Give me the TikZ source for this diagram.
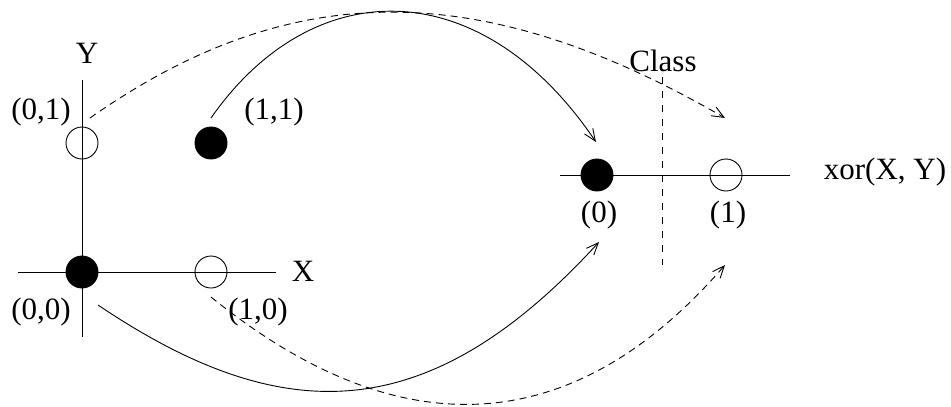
\documentclass[tikz,border=0pt]{standalone}
\usepackage{fontspec}
\setmainfont{Liberation Serif}
\usetikzlibrary{arrows.meta}
\begin{document}
\begin{tikzpicture}[x=1pt,y=-1pt,
  dot/.style={circle,draw,line width=0.9pt,minimum size=32pt,inner sep=0pt},
  filled/.style={dot,fill=black},
  hollow/.style={dot},
  lbl/.style={inner sep=0pt,font=\fontsize{31}{36}\selectfont},
  axis/.style={line width=0.9pt},
  link/.style={line width=0.9pt,-{Straight Barb[length=12pt,width=10pt]}},
  dashedlink/.style={link,dash pattern=on 7pt off 5pt},
  classline/.style={line width=0.9pt,dash pattern=on 7pt off 7pt}]
\useasboundingbox (0,0) rectangle (951,407);
% axes
\coordinate (ytop) at (82,80);
\coordinate (ybot) at (82,337);
\coordinate (xl) at (18,272);
\coordinate (xr) at (276,272);
\coordinate (rl) at (560,175);
\coordinate (rr) at (790,175);
\coordinate (ct) at (662,77);
\coordinate (cb) at (662,265);
\draw[axis] (ytop) -- (ybot);
\draw[axis] (xl) -- (xr);
\draw[axis] (rl) -- (rr);
\draw[classline] (ct) -- (cb);
% points
\node[filled] (p00) at (82,272) {};
\node[hollow] (p01) at (82,143) {};
\node[filled] (p11) at (211,143) {};
\node[hollow] (p10) at (211,272) {};
\node[filled] (c0) at (597,175) {};
\node[hollow] (c1) at (726,175) {};
% labels
\node[lbl] (ly) at (87,53) {Y};
\node[lbl] (lx) at (303,271) {X};
\node[lbl] (l01) at (41,112) {(0,1)};
\node[lbl] (l11) at (274,112) {(1,1)};
\node[lbl] (l00) at (41,312) {(0,0)};
\node[lbl] (l10) at (258,312) {(1,0)};
\node[lbl] (lclass) at (663,61) {Class};
\node[lbl] (lxor) at (885,172) {xor(X, Y)};
\node[lbl] (lc0) at (599,215) {(0)};
\node[lbl] (lc1) at (728,215) {(1)};
% mappings
\draw[dashedlink] ([shift={(8,-25)}]p01.center) .. controls (291,-23) and (481,-23) .. ([shift={(-1,-57)}]c1.center);
\draw[link] ([shift={(0,-25)}]p11.center) .. controls (313,-28) and (481,-28) .. ([shift={(-1,-33)}]c0.center);
\draw[link] ([shift={(16,33)}]p00.center) .. controls (282,429) and (428,429) .. ([shift={(0,27)}]lc0.center);
\draw[dashedlink] ([shift={(0,25)}]p10.center) .. controls (394,445) and (569,445) .. ([shift={(-3,50)}]lc1.center);
\end{tikzpicture}
\end{document}
